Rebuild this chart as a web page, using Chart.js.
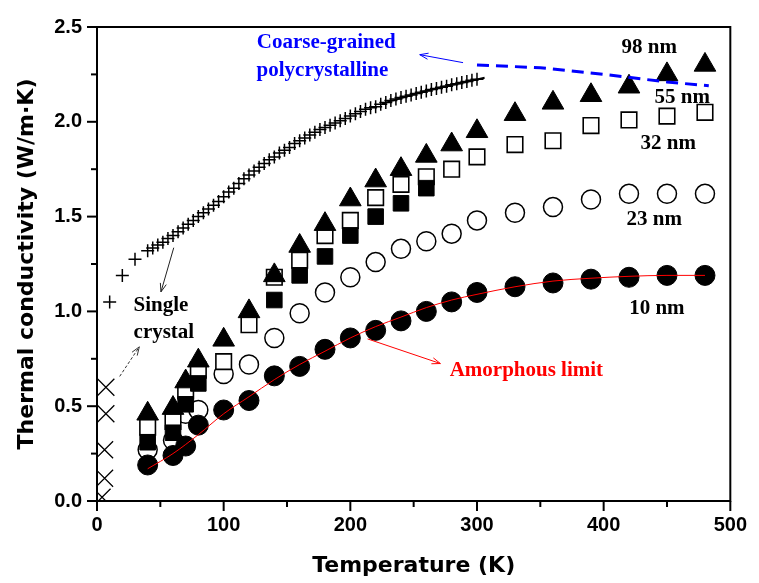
<!DOCTYPE html>
<html><head><meta charset="utf-8">
<script src="https://cdn.jsdelivr.net/npm/chart.js@4/dist/chart.umd.min.js"></script>
<style>html,body{margin:0;padding:0;background:#fff;}#wrap{width:759px;height:583px;position:relative;}</style>
</head><body><div id="wrap"><canvas id="c"></canvas></div>
<script>
// ---- data ----
const temperatures = [40,60,70,80,100,120,140,160,180,200,220,240,260,280,300,330,360,390,420,450,480];
const k10nm = [0.19,0.24,0.29,0.40,0.48,0.53,0.66,0.71,0.80,0.86,0.90,0.95,1.00,1.05,1.10,1.13,1.15,1.17,1.18,1.19,1.19];
const k23nm = [0.27,0.32,0.46,0.48,0.67,0.72,0.86,0.99,1.10,1.18,1.26,1.33,1.37,1.41,1.48,1.52,1.55,1.59,1.62,1.62,1.62];
const k32nm = [0.31,0.36,0.51,0.62,null,null,1.06,1.19,1.29,1.40,1.50,1.57,1.65,null,null,null,null,null,null,null,null];
const k55nm = [0.39,0.42,0.58,0.69,0.735,0.93,1.18,1.27,1.40,1.48,1.60,1.67,1.71,1.75,1.815,1.88,1.90,1.98,2.01,2.03,2.05];
const k98nm = [0.46,0.49,0.63,0.74,0.85,1.00,1.19,1.345,1.46,1.59,1.69,1.75,1.82,1.88,1.95,2.04,2.10,2.14,2.185,2.25,2.30];

const amorphousT = [40,60,80,100,120,140,160,180,200,220,240,260,280,300,330,360,390,420,450,480];
const amorphousK = [0.17,0.25,0.35,0.46,0.55,0.64,0.72,0.79,0.86,0.92,0.97,1.02,1.06,1.09,1.13,1.16,1.175,1.185,1.19,1.19];

const crystalPlusT = [10,20,30,40,44,48,52,56,60,64,68,72,76,80,84,88,92,96,100,104,108,112,116,120,124,128,132,136,140,144,148,152,156,160,164,168,172,176,180,184,188,192,196,200,204,208,212,216,220,224,228,232,236,240,244,248,252,256,260,264,268,272,276,280,284,288,292,296,300];
const crystalPlusK = [1.05,1.19,1.275,1.32,1.335,1.35,1.365,1.385,1.40,1.42,1.44,1.46,1.48,1.50,1.52,1.54,1.56,1.58,1.605,1.63,1.65,1.675,1.70,1.72,1.74,1.76,1.78,1.80,1.815,1.835,1.85,1.865,1.885,1.90,1.915,1.93,1.945,1.96,1.97,1.982,1.994,2.006,2.018,2.03,2.042,2.054,2.066,2.074,2.08,2.092,2.102,2.112,2.12,2.128,2.135,2.142,2.149,2.156,2.163,2.17,2.176,2.182,2.188,2.195,2.201,2.207,2.213,2.219,2.225];
const crystalLineT = [225,260,306];
const crystalLineK = [2.095,2.163,2.232];

const crystalCrossT = [7,7,6,6,4];
const crystalCrossK = [0.60,0.46,0.27,0.12,0.02];

const coarseT = [300,350,400,450,483];
const coarseK = [2.30,2.285,2.25,2.21,2.19];

const xTicks = [0,100,200,300,400,500];
const yTicks = [0.0,0.5,1.0,1.5,2.0,2.5];

// ---- helpers ----
const pts = (xs, ys) => xs.map((x,i)=>({x, y: ys[i]})).filter(p => p.y !== null);

const notes = [
  {text:'Coarse-grained', x:181, y:2.418, color:'#0000ff'},
  {text:'polycrystalline', x:178, y:2.27, color:'#0000ff'},
  {text:'98 nm', x:436, y:2.39, color:'#000'},
  {text:'55 nm', x:462, y:2.13, color:'#000'},
  {text:'32 nm', x:451, y:1.885, color:'#000'},
  {text:'23 nm', x:440, y:1.484, color:'#000'},
  {text:'10 nm', x:442, y:1.014, color:'#000'},
  {text:'Amorphous limit', x:339, y:0.688, color:'#ff0000'},
  {text:'Single', x:50.5, y:1.032, color:'#000'},
  {text:'crystal', x:52.8, y:0.89, color:'#000'}
];
const arrows = [
  {x0:289, y0:2.312, x1:254.8, y1:2.354, color:'#0000ff', dash:[]},
  {x0:213.6, y0:0.855, x1:271.1, y1:0.725, color:'#ff0000', dash:[]},
  {x0:60.6, y0:1.336, x1:50.5, y1:1.103, color:'#222', dash:[]},
  {x0:17.9, y0:0.657, x1:33.4, y1:0.813, color:'#333', dash:[3,2]}
];

const overlay = {
  id:'overlay',
  afterDraw(chart){
    const {ctx, chartArea:a, scales:{x, y}} = chart;
    ctx.save();
    ctx.strokeStyle = '#000'; ctx.lineWidth = 2;
    for (let v=0; v<=500.001; v+=50){
      const px = x.getPixelForValue(v);
      const len = (Math.round(v)%100===0) ? 10 : 6;
      ctx.beginPath(); ctx.moveTo(px, a.bottom); ctx.lineTo(px, a.bottom+len); ctx.stroke();
    }
    for (let v=0; v<=2.5001; v+=0.25){
      const py = y.getPixelForValue(v);
      const major = Math.abs(v/0.5 - Math.round(v/0.5)) < 1e-6;
      const len = major ? 10 : 6;
      ctx.beginPath(); ctx.moveTo(a.left, py); ctx.lineTo(a.left-len, py); ctx.stroke();
    }
    ctx.lineWidth = 2;
    ctx.strokeRect(a.left, a.top, a.right-a.left, a.bottom-a.top);
    arrows.forEach(ar=>{
      const X0 = x.getPixelForValue(ar.x0), Y0 = y.getPixelForValue(ar.y0);
      const X1 = x.getPixelForValue(ar.x1), Y1 = y.getPixelForValue(ar.y1);
      ctx.strokeStyle = ar.color; ctx.lineWidth = 1;
      ctx.setLineDash(ar.dash);
      ctx.beginPath(); ctx.moveTo(X0,Y0); ctx.lineTo(X1,Y1); ctx.stroke();
      ctx.setLineDash([]);
      const ang = Math.atan2(Y1-Y0, X1-X0), h = 9, w = 0.35;
      ctx.beginPath();
      ctx.moveTo(X1 - h*Math.cos(ang-w), Y1 - h*Math.sin(ang-w));
      ctx.lineTo(X1, Y1);
      ctx.lineTo(X1 - h*Math.cos(ang+w), Y1 - h*Math.sin(ang+w));
      ctx.stroke();
    });
    ctx.font = 'bold 21px "Liberation Serif", "Times New Roman", serif';
    ctx.textAlign = 'center'; ctx.textBaseline = 'middle';
    notes.forEach(n=>{
      ctx.fillStyle = n.color;
      ctx.fillText(n.text, x.getPixelForValue(n.x), y.getPixelForValue(n.y));
    });
    ctx.restore();
  }
};

const sansTick = {family:'"Liberation Sans", Arial, sans-serif', size:20, weight:'bold'};
const sansTitle = {family:'"DejaVu Sans", sans-serif', size:22, weight:'bold'};

new Chart(document.getElementById('c'), {
  type:'scatter',
  data:{
    datasets:[
      {label:'Amorphous limit', data:pts(amorphousT, amorphousK), showLine:true, pointRadius:0, borderColor:'#ff0000', borderWidth:1, tension:0.4, cubicInterpolationMode:'monotone', order:0},
      {label:'Coarse-grained polycrystalline', data:pts(coarseT, coarseK), showLine:true, pointRadius:0, borderColor:'#0000ff', borderWidth:3, borderDash:[12,7], tension:0, order:0},
      {label:'Single crystal line', data:pts(crystalLineT, crystalLineK), showLine:true, pointRadius:0, borderColor:'#000', borderWidth:2, tension:0.3, order:1},
      {label:'98 nm', data:pts(temperatures, k98nm), pointStyle:'triangle', pointRadius:12.5, backgroundColor:'#000', borderColor:'#000', borderWidth:1, order:2},
      {label:'32 nm', data:pts(temperatures, k32nm), pointStyle:'rect', pointRadius:11, backgroundColor:'#000', borderColor:'#000', borderWidth:1, order:3},
      {label:'55 nm', data:pts(temperatures, k55nm), pointStyle:'rect', pointRadius:11, backgroundColor:'#fff', borderColor:'#000', borderWidth:1.6, order:4},
      {label:'10 nm', data:pts(temperatures, k10nm), pointStyle:'circle', pointRadius:10, backgroundColor:'#000', borderColor:'#000', borderWidth:1, order:5},
      {label:'23 nm', data:pts(temperatures, k23nm), pointStyle:'circle', pointRadius:9.5, backgroundColor:'#fff', borderColor:'#000', borderWidth:1.5, order:6},
      {label:'Single crystal (+)', data:pts(crystalPlusT, crystalPlusK), pointStyle:'cross', pointRadius:6.5, borderColor:'#000', borderWidth:1.5, order:7},
      {label:'Single crystal (x)', data:pts(crystalCrossT, crystalCrossK), pointStyle:'crossRot', pointRadius:12, borderColor:'#000', borderWidth:1.3, order:7, clip:0}
    ]
  },
  options:{
    responsive:true, maintainAspectRatio:false, animation:false,
    layout:{padding:{top:22, right:18, left:0, bottom:0}},
    plugins:{legend:{display:false}, tooltip:{enabled:false}},
    elements:{point:{hoverRadius:0}},
    scales:{
      x:{type:'linear', min:0, max:500,
        afterFit(s){ s.height = 82; },
        afterBuildTicks(s){ s.ticks = xTicks.map(v=>({value:v})); },
        ticks:{font:sansTick, color:'#000', padding:12, maxRotation:0},
        grid:{display:false, drawTicks:false},
        border:{display:false},
        title:{display:true, text:'Temperature (K)', font:sansTitle, color:'#000', padding:{top:0,bottom:4}}
      },
      y:{type:'linear', min:0, max:2.5,
        afterFit(s){ s.width = 97; },
        afterBuildTicks(s){ s.ticks = yTicks.map(v=>({value:v})); },
        ticks:{font:sansTick, color:'#000', padding:15, callback:v=>v.toFixed(1)},
        grid:{display:false, drawTicks:false},
        border:{display:false},
        title:{display:true, text:'Thermal conductivity (W/m·K)', font:sansTitle, color:'#000', padding:{top:14,bottom:0}}
      }
    }
  },
  plugins:[overlay]
});
</script>
</body></html>
